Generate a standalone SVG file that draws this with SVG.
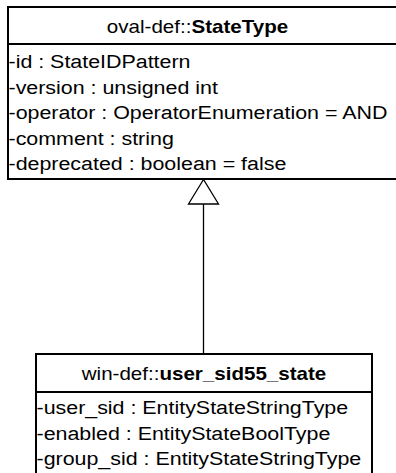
<svg xmlns="http://www.w3.org/2000/svg" width="396" height="473" viewBox="0 0 396 473">
<style>
.box{fill:#fff;stroke:#000;stroke-width:2}
.sep{stroke:#000;stroke-width:2}
.t{font-family:"Liberation Sans",Arial,sans-serif;font-size:18px;fill:#000}
.h{text-anchor:middle}
.b{font-weight:bold}
.conn{stroke:#000;stroke-width:1.3;fill:none}
.tri{fill:#fff;stroke:#000;stroke-width:1.3}
</style>
<g id="connectors">
<line class="conn" x1="203.5" y1="204" x2="203.5" y2="354"/>
<polygon class="tri" points="203.5,179.5 188.5,204 218.5,204"/>
</g>
<g id="StateType">
<rect class="box" x="8" y="7" width="400" height="172"/>
<line class="sep" x1="8" y1="44" x2="408" y2="44"/>
<text class="t h" transform="translate(197.5,32.5) scale(1.143,1)">oval-def::<tspan class="b">StateType</tspan></text>
<text class="t" transform="translate(8.5,68) scale(1.19,1)">-id : StateIDPattern</text>
<text class="t" transform="translate(8.5,93.5) scale(1.19,1)">-version : unsigned int</text>
<text class="t" transform="translate(8.5,119) scale(1.19,1)">-operator : OperatorEnumeration = AND</text>
<text class="t" transform="translate(8.5,144.5) scale(1.19,1)">-comment : string</text>
<text class="t" transform="translate(8.5,170) scale(1.19,1)">-deprecated : boolean = false</text>
</g>
<g id="user_sid55_state">
<rect class="box" x="36" y="354" width="336" height="130"/>
<line class="sep" x1="36" y1="392" x2="372" y2="392"/>
<text class="t h" transform="translate(204,379.5) scale(1.143,1)">win-def::<tspan class="b">user_sid55_state</tspan></text>
<text class="t" transform="translate(36.5,413.5) scale(1.19,1)">-user_sid : EntityStateStringType</text>
<text class="t" transform="translate(36.5,439.5) scale(1.19,1)">-enabled : EntityStateBoolType</text>
<text class="t" transform="translate(36.5,465) scale(1.19,1)">-group_sid : EntityStateStringType</text>
</g>
</svg>
